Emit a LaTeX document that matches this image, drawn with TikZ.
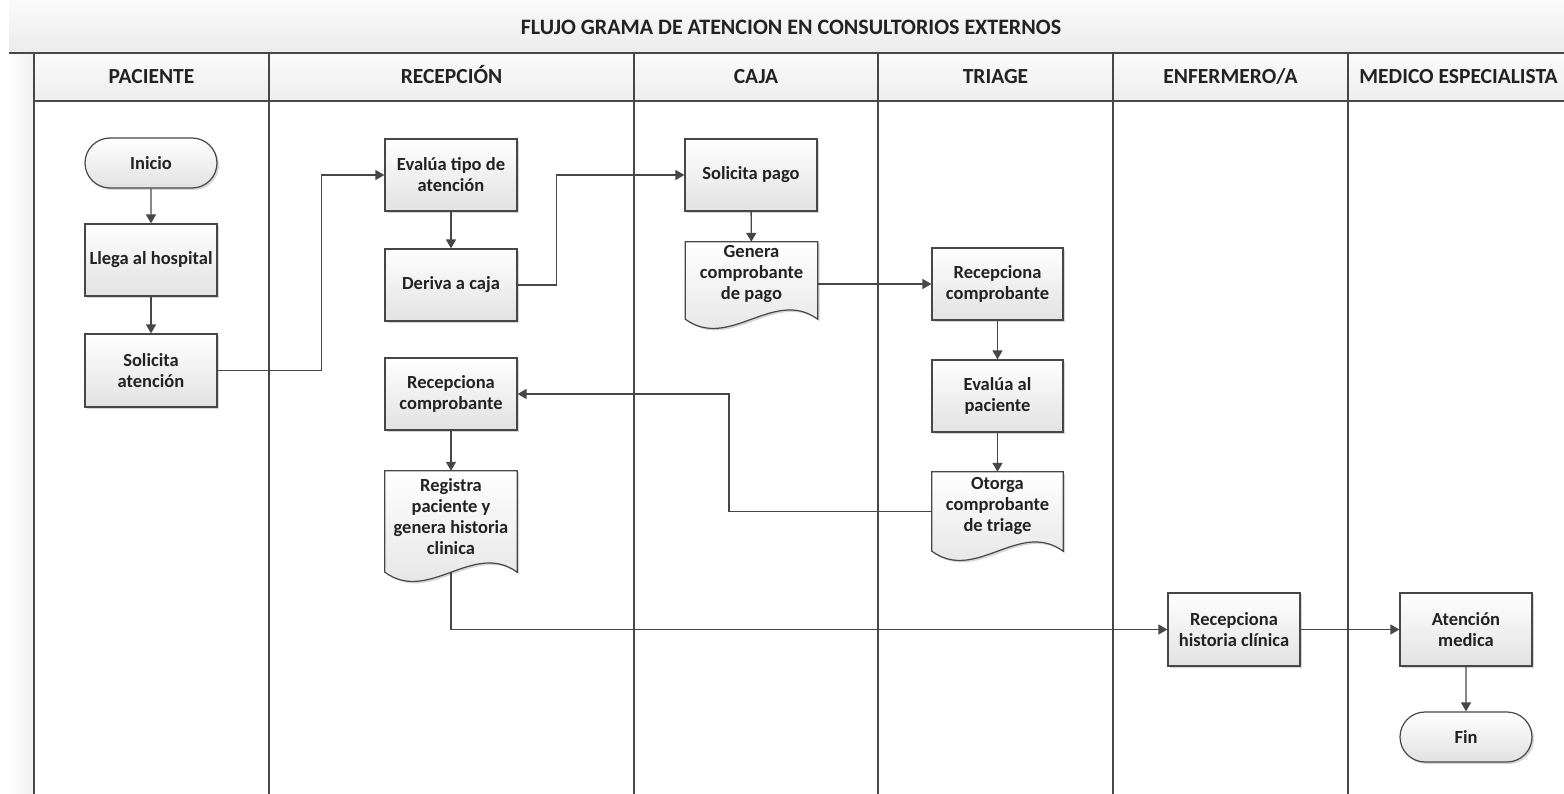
\documentclass[tikz,border=0pt]{standalone}
\usepackage{fontspec}
\setmainfont{Carlito}
\usetikzlibrary{arrows.meta,shapes.misc,shadows,calc}

\definecolor{ink}{HTML}{474747}
\definecolor{txt}{HTML}{222222}
\definecolor{boxbot}{HTML}{E2E2E2}
\definecolor{shadowc}{HTML}{BBBBBB}
\definecolor{bandtop}{HTML}{FBFBFB}
\definecolor{bandbot}{HTML}{EBEBEB}
\definecolor{headtop}{HTML}{FBFBFB}
\definecolor{headbot}{HTML}{EEEEEE}

\tikzset{
  every node/.style={font=\bfseries\fontsize{18.5}{21}\selectfont, text=txt},
  boxshadow/.style={drop shadow={shadow xshift=2pt, shadow yshift=-2pt, fill=shadowc, opacity=0.6}},
  proc/.style={rectangle, draw=ink, line width=1.2pt, top color=white, bottom color=boxbot,
    minimum width=132pt, minimum height=72pt, inner sep=0pt, align=center, boxshadow},
  term/.style={rounded rectangle, draw=ink, line width=1.2pt, top color=white, bottom color=boxbot,
    minimum width=132pt, minimum height=50pt, inner sep=0pt, boxshadow},
  docarea/.style={rectangle, minimum width=132pt, inner sep=0pt},
  doctext/.style={align=center, inner sep=0pt},
  docline/.style={draw=ink, line width=1.2pt, top color=white, bottom color=boxbot},
  flow/.style={draw=ink, line width=1.4pt, -{Triangle[width=10pt,length=9pt]}},
  laneline/.style={draw=ink, line width=1.6pt},
  lanehead/.style={font=\bfseries\fontsize{21.5}{24}\selectfont, text height=15pt, text depth=4pt, inner sep=0pt},
}

% document symbol with a wavy bottom edge, drawn around a named area node
\newcommand\drawdoc[1]{%
  \fill[shadowc, opacity=0.6, transform canvas={xshift=2pt, yshift=-2pt}]
    (#1.north west) -- (#1.north east) -- (#1.south east)
    .. controls ($(#1.south east)+(-44,-32)$) and ($(#1.south west)+(44,32)$) .. (#1.south west) -- cycle;
  \shadedraw[docline]
    (#1.north west) -- (#1.north east) -- (#1.south east)
    .. controls ($(#1.south east)+(-44,-32)$) and ($(#1.south west)+(44,32)$) .. (#1.south west) -- cycle;
}

\begin{document}
\begin{tikzpicture}[x=1pt, y=-1pt]
\useasboundingbox (0,0) rectangle (1564,794);

% title band, header row and left margin strip
\shade[top color=bandtop, bottom color=bandbot] (9,0) rectangle (1564,53);
\shade[top color=headtop, bottom color=headbot] (34,53) rectangle (1564,101);
\shade[left color=white, right color=gray!12] (9,53) rectangle (34,794);

\node[font=\bfseries\fontsize{22}{26}\selectfont] (title) at (791,27.5) {FLUJO GRAMA DE ATENCION EN CONSULTORIOS EXTERNOS};

\draw[laneline, line width=1.3pt] (9,53) -- (1564,53);
\draw[laneline, line width=1.3pt] (34,101) -- (1564,101);
\foreach \xx in {34,269,634,878,1113,1348} {
  \draw[laneline] (\xx,53) -- (\xx,794);
}

% lane headers
\node[lanehead] (hpac) at (151.5,78.5) {PACIENTE};
\node[lanehead] (hrec) at (451.5,78.5) {RECEPCIÓN};
\node[lanehead] (hcaj) at (756,78.5) {CAJA};
\node[lanehead] (htri) at (995.5,78.5) {TRIAGE};
\node[lanehead] (henf) at (1230.5,78.5) {ENFERMERO/A};
\node[lanehead] (hmed) at (1458.5,78.5) {MEDICO ESPECIALISTA};

% PACIENTE
\node[term] (inicio) at (151,163) {Inicio};
\node[proc] (llega) at (151,260) {Llega al hospital};
\node[proc, minimum height=73pt] (solic) at (151,370.5) {Solicita\\atención};

% RECEPCIÓN
\node[proc] (evtipo) at (451,175) {Evalúa tipo de\\atención};
\node[proc] (deriva) at (451,285) {Deriva a caja};
\node[proc] (reccomp) at (451,394) {Recepciona\\comprobante};
\node[docarea, minimum height=101pt] (registra) at (451,521.5) {};
\drawdoc{registra}
\node[doctext] (registratxt) at ([yshift=5pt]registra.center) {Registra\\paciente y\\genera historia\\clinica};

% CAJA
\node[proc] (spago) at (751,175) {Solicita pago};
\node[docarea, minimum height=77pt] (genera) at (751.5,280.5) {};
\drawdoc{genera}
\node[doctext] (generatxt) at ([yshift=6pt]genera.center) {Genera\\comprobante\\de pago};

% TRIAGE
\node[proc, minimum width=131pt] (trirec) at (997.5,284) {Recepciona\\comprobante};
\node[proc, minimum width=131pt] (evpac) at (997.5,396) {Evalúa al\\paciente};
\node[docarea, minimum width=131pt, minimum height=79pt] (otorga) at (997.5,511.5) {};
\drawdoc{otorga}
\node[doctext] (otorgatxt) at ([yshift=6pt]otorga.center) {Otorga\\comprobante\\de triage};

% ENFERMERO/A
\node[proc, minimum height=73pt] (rechist) at (1234,629.5) {Recepciona\\historia clínica};

% MEDICO ESPECIALISTA
\node[proc, minimum height=73pt] (atencion) at (1466,629.5) {Atención\\medica};
\node[term] (fin) at (1466,737) {Fin};

% connectors
\draw[flow] (inicio) -- (llega);
\draw[flow] (llega) -- (solic);
\draw[flow] (solic.east) -- ++(104,0) |- (evtipo.west);
\draw[flow] (evtipo) -- (deriva);
\draw[flow] (deriva.east) -- ++(39,0) |- (spago.west);
\draw[flow] (spago) -- (genera);
\draw[flow] (genera.east |- trirec.west) -- (trirec.west);
\draw[flow] (trirec) -- (evpac);
\draw[flow] (evpac) -- (otorga);
\draw[flow] (otorga.west) -- ++(-203,0) |- (reccomp.east);
\draw[flow] (reccomp) -- (registra);
\draw[flow] (registra.south) |- (rechist.west);
\draw[flow] (rechist) -- (atencion);
\draw[flow] (atencion) -- (fin);
\end{tikzpicture}
\end{document}
